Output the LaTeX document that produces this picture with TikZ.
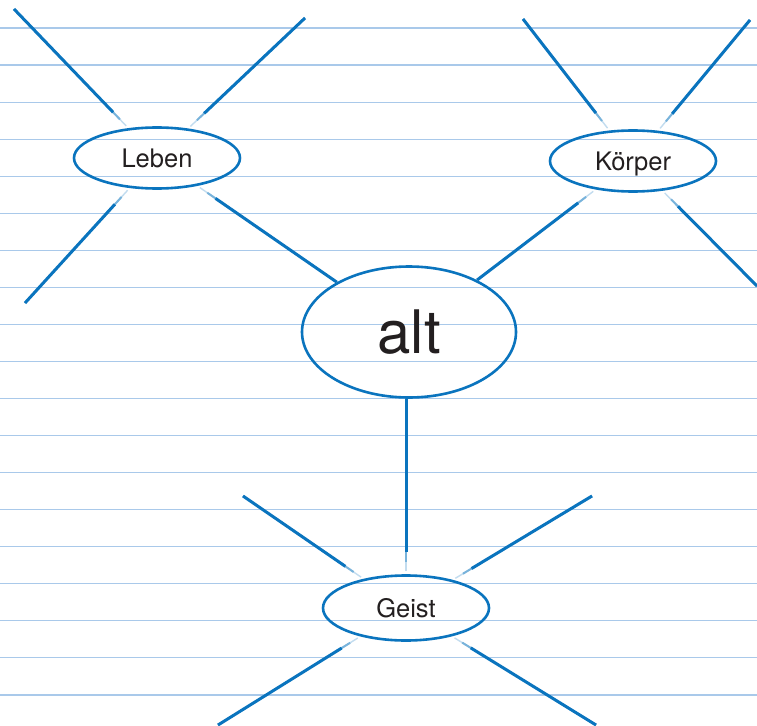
\documentclass[tikz,border=0pt]{standalone}
\usepackage{fontspec}
\setmainfont{TeX Gyre Heros}
\usetikzlibrary{shapes.geometric}
\definecolor{ink}{HTML}{0A74BE}
\definecolor{rulecol}{HTML}{A9C9EA}
\definecolor{txt}{HTML}{231F20}
\begin{document}
\begin{tikzpicture}[x=1pt,y=-1pt,
  bubble/.style={ellipse, draw=ink, line width=2.6pt, inner sep=0pt, text=txt, text depth=0pt},
  small/.style={bubble, minimum width=166pt, minimum height=61pt, text height=18.4pt, font=\fontsize{25.5}{30}\selectfont},
  spoke/.style={draw=ink, line width=3pt, shorten >=22pt},
  spokemid/.style={draw=ink!55, line width=2pt, shorten >=12pt},
  spokefade/.style={draw=ink!25, line width=1.4pt, shorten >=3pt},
  link/.style={draw=ink, line width=3pt, shorten <=22pt},
  linkmid/.style={draw=ink!55, line width=2pt, shorten <=12pt},
  linkfade/.style={draw=ink!25, line width=1.4pt, shorten <=3pt},
  ruling/.style={draw=rulecol, line width=1.2pt}]
\useasboundingbox (0,0) rectangle (757,725);
\fill[white] (0,0) rectangle (757,725);
\foreach \i in {0,...,18} \draw[ruling] (0,{28+37.05*\i}) -- (757,{28+37.05*\i});

\node[small] (leben) at (157,158) {Leben};
\node[small] (koerper) at (633,161) {Körper};
\node[bubble, minimum width=214pt, minimum height=131pt, text height=43.5pt, font=\fontsize{60}{70}\selectfont] (alt) at (409,332) {alt};
\node[small, minimum height=65pt] (geist) at (406,608) {Geist};

\coordinate (l1) at (14,9);
\coordinate (l2) at (305,18);
\coordinate (l3) at (25,303);
\coordinate (k1) at (523,19);
\coordinate (k2) at (750,20);
\coordinate (k3) at (757,286);
\coordinate (g1) at (243,496);
\coordinate (g2) at (592,496);
\coordinate (g3) at (218,725);
\coordinate (g4) at (596,725);

\foreach \c in {l1,l2,l3} {
  \draw[spokefade] (\c) -- (leben);
  \draw[spokemid] (\c) -- (leben);
  \draw[spoke] (\c) -- (leben);
}
\foreach \c in {k1,k2,k3} {
  \draw[spokefade] (\c) -- (koerper);
  \draw[spokemid] (\c) -- (koerper);
  \draw[spoke] (\c) -- (koerper);
}
\foreach \c in {g1,g2,g3,g4} {
  \draw[spokefade] (\c) -- (geist);
  \draw[spokemid] (\c) -- (geist);
  \draw[spoke] (\c) -- (geist);
}

\foreach \s in {linkfade,linkmid,link} {
  \draw[\s] (leben) -- (alt);
  \draw[\s] (koerper) -- (alt);
  \draw[\s] (geist.north) -- (geist.north |- alt.south);
}
\end{tikzpicture}
\end{document}
